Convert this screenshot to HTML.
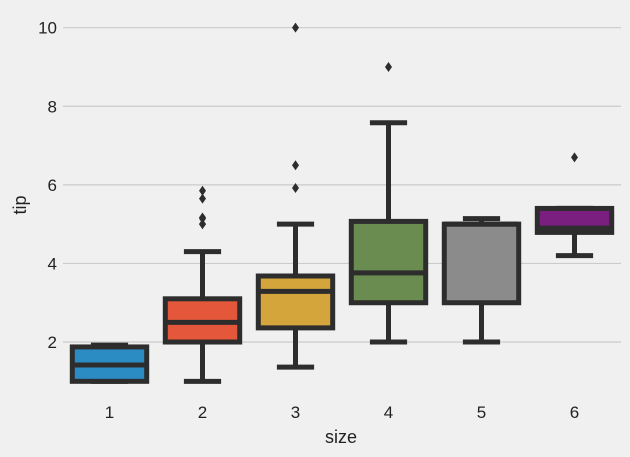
<!DOCTYPE html>
<html><head><meta charset="utf-8"><style>
body{margin:0;background:#f0f0f0;}
svg{display:block;font-family:"Liberation Sans","DejaVu Sans",sans-serif;}
</style></head><body>
<svg id="chart" width="630" height="457">
<rect width="630" height="457" fill="#f0f0f0"/>
<g id="grid"></g>
<g id="boxes"></g>
<g id="ticks"></g>
<text x="341" y="443" text-anchor="middle" font-size="18" fill="#222">size</text>
<text x="26" y="205" text-anchor="middle" font-size="18" fill="#222" transform="rotate(-90 26 205)">tip</text>
</svg>
<script>
const categories=["1","2","3","4","5","6"];
const whiskLo=[1.0,1.0,1.36,2.0,2.0,4.2];
const q1=[1.0,2.0,2.36,3.0,3.0,4.79];
const median=[1.415,2.5,3.29,3.76,5.0,4.9];
const q3=[1.875,3.1,3.68,5.07,5.0,5.4];
const whiskHi=[1.92,4.3,5.0,7.58,5.14,5.4];
const outliers=[[],[5.85,5.65,5.17,5.14,5.0,5.0],[10.0,6.5,5.92],[9.0],[],[6.7]];
const colors=["#2b8cc4","#e5573a","#d4a53a","#6a8c50","#8b8b8b","#7a1f80"];
const yTicks=[2,4,6,8,10];
const NS="http://www.w3.org/2000/svg";
const yMin=0.55,yMax=10.45,plotTop=10,plotBot=399,plotLeft=63,plotRight=621;
const yScale=v=>plotBot-(v-yMin)/(yMax-yMin)*(plotBot-plotTop);
const step=(plotRight-plotLeft)/categories.length;
const xScale=i=>plotLeft+step*(i+0.5);
function mk(tag,attrs,parent){const e=document.createElementNS(NS,tag);for(const k in attrs)e.setAttribute(k,attrs[k]);parent.appendChild(e);return e;}
const grid=document.getElementById('grid'),boxes=document.getElementById('boxes'),ticks=document.getElementById('ticks');
yTicks.forEach(t=>{
  const l=mk('line',{x1:plotLeft,x2:plotRight,y1:yScale(t),y2:yScale(t),stroke:'#cbcbcb','stroke-width':1.2},grid);
  
  
  const tx=mk('text',{x:57,y:yScale(t)+6,'text-anchor':'end','font-size':17,fill:'#222'},ticks);
  tx.textContent=t;
  
  
});
const lc='#2d2d2d',lw=5,w=step*0.8;
categories.forEach((c,i)=>{
  const g=mk('g',{},boxes);
  
  
  const cx=xScale(i);
  mk('line',{x1:cx,x2:cx,y1:yScale(whiskLo[i]),y2:yScale(q1[i]),stroke:lc,'stroke-width':lw},g);
  mk('line',{x1:cx,x2:cx,y1:yScale(whiskHi[i]),y2:yScale(q3[i]),stroke:lc,'stroke-width':lw},g);
  mk('line',{x1:cx-w/4,x2:cx+w/4,y1:yScale(whiskLo[i]),y2:yScale(whiskLo[i]),stroke:lc,'stroke-width':lw},g);
  mk('line',{x1:cx-w/4,x2:cx+w/4,y1:yScale(whiskHi[i]),y2:yScale(whiskHi[i]),stroke:lc,'stroke-width':lw},g);
  const h=Math.max(0.5,yScale(q1[i])-yScale(q3[i]));
  mk('rect',{x:cx-w/2,y:yScale(q3[i]),width:w,height:h,fill:colors[i],stroke:lc,'stroke-width':lw},g);
  mk('line',{x1:cx-w/2,x2:cx+w/2,y1:yScale(median[i]),y2:yScale(median[i]),stroke:lc,'stroke-width':lw},g);
  outliers[i].forEach(o=>{
    const yy=yScale(o);
    const p=mk('path',{d:`M${cx} ${yy-5}L${cx+3.5} ${yy}L${cx} ${yy+5}L${cx-3.5} ${yy}Z`,fill:lc},g);
    
    
  });
  const tx=mk('text',{x:cx,y:418,'text-anchor':'middle','font-size':17,fill:'#222'},ticks);
  tx.textContent=c;
  
  
});
</script>
</body></html>
